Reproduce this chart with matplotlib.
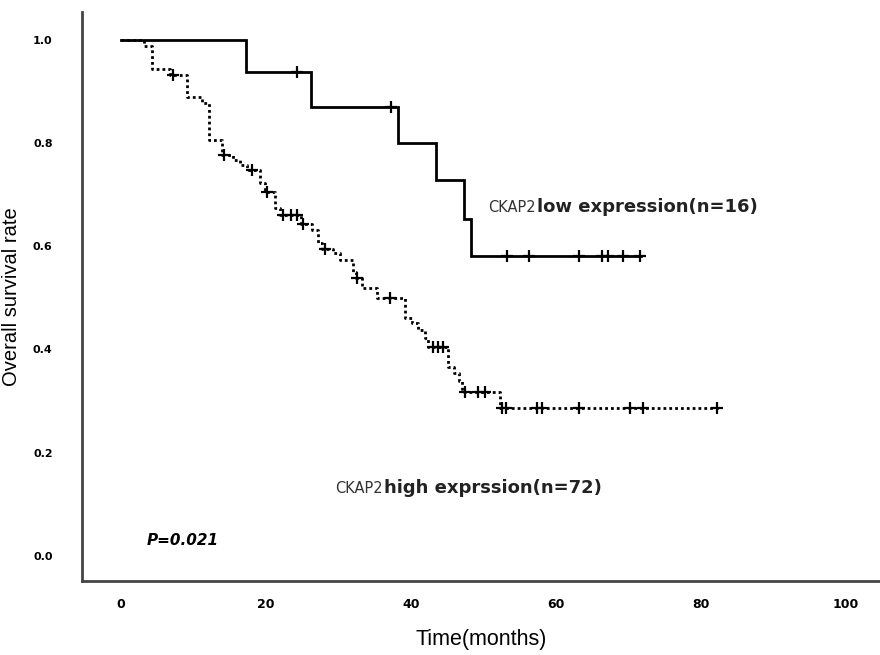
import numpy as np
import matplotlib
matplotlib.use("Agg")
import matplotlib.pyplot as plt

# ---- data ----
low_times = [0, 17.2, 26.2, 38.2, 43.4, 47.3, 48.3]
low_surv = [1.0, 0.938, 0.870, 0.800, 0.729, 0.652, 0.581]
low_end = 71.7
low_censor = [24.3, 37.2, 53.2, 56.3, 63.2, 66.3, 67.2, 69.3, 71.6]

high_times = [0, 3.2, 4.3, 6.8, 9.1, 11.2, 12.1, 14.0, 15.4, 16.4, 17.4, 19.2, 19.9,
              21.2, 21.9, 24.9, 26.3, 27.2, 27.8, 29.2, 30.2, 32.0, 32.5, 33.2, 35.3,
              39.2, 40.1, 41.0, 41.9, 42.3, 45.1, 46.0, 46.7, 47.1, 52.3]
high_surv = [1.0, 0.988, 0.944, 0.932, 0.889, 0.878, 0.806, 0.777, 0.767, 0.758, 0.748,
             0.723, 0.705, 0.674, 0.660, 0.643, 0.632, 0.607, 0.595, 0.587, 0.574,
             0.550, 0.539, 0.519, 0.500, 0.461, 0.452, 0.438, 0.422, 0.405, 0.366,
             0.354, 0.338, 0.318, 0.287]
high_end = 82.6
high_censor = [7.2, 14.2, 18.1, 20.1, 22.3, 23.4, 24.3, 25.1, 28.1, 32.6, 37.1,
               43.0, 43.7, 44.4, 47.4, 49.2, 50.2, 52.5, 53.1, 57.4, 58.1, 63.2,
               70.2, 72.0, 82.2]

xticks = [0, 20, 40, 60, 80, 100]
yticks = [0.0, 0.2, 0.4, 0.6, 0.8, 1.0]


def surv_at(times, surv, t):
    idx = np.searchsorted(np.array(times), t, side="right") - 1
    return np.array(surv)[idx]


fig = plt.figure(figsize=(8.8, 6.55), dpi=100)
ax = fig.add_axes([0.093, 0.113, 0.907, 0.869])

# low expression (solid)
lx = low_times + [low_end]
ly = low_surv + [low_surv[-1]]
ax.step(lx, ly, where="post", color="black", lw=2.0, solid_joinstyle="miter")
ax.plot(low_censor, surv_at(low_times, low_surv, low_censor), ls="none",
        marker="+", ms=9, mew=1.6, color="black")

# high expression (dotted)
hx = high_times + [high_end]
hy = high_surv + [high_surv[-1]]
ax.step(hx, hy, where="post", color="black", lw=2.0, ls=(0, (1.0, 1.1)),
        dash_capstyle="butt")
ax.plot(high_censor, surv_at(high_times, high_surv, high_censor), ls="none",
        marker="+", ms=9, mew=1.6, color="black")

ax.set_xlim(-5.38, 104.7)
ax.set_ylim(-0.0484, 1.054)

for s in ["top", "right"]:
    ax.spines[s].set_visible(False)
for s in ["left", "bottom"]:
    ax.spines[s].set_color("#444444")
    ax.spines[s].set_linewidth(2.0)

ax.set_xticks(xticks)
ax.set_xticklabels([str(v) for v in xticks], fontsize=9, fontweight="bold",
                   family="DejaVu Sans")
ax.set_yticks(yticks)
ax.set_yticklabels([f"{v:.1f}" for v in yticks], fontsize=8, fontweight="bold",
                   family="DejaVu Sans")
ax.tick_params(axis="both", length=0)
ax.tick_params(axis="y", pad=21)
ax.tick_params(axis="x", pad=12)

ax.set_xlabel("Time(months)", fontsize=15.5, family="Liberation Sans")
ax.set_ylabel("Overall survival rate", fontsize=14.5, family="Liberation Sans")
ax.xaxis.set_label_coords(0.5, -0.085)
ax.yaxis.set_label_coords(-0.076, 0.5)

ax.text(50.6, 0.675, "CKAP2", fontsize=10.5, color="#333333", va="center", ha="left",
        family="DejaVu Sans")
ax.text(57.4, 0.675, "low expression(n=16)", fontsize=13, fontweight="bold",
        va="center", ha="left", family="DejaVu Sans", color="#222222")
ax.text(29.5, 0.131, "CKAP2", fontsize=10.5, color="#333333", va="center", ha="left",
        family="DejaVu Sans")
ax.text(36.3, 0.131, "high exprssion(n=72)", fontsize=13, fontweight="bold",
        va="center", ha="left", family="DejaVu Sans", color="#222222")
ax.text(3.5, 0.03, "P=0.021", fontsize=11, fontweight="bold", style="italic",
        va="center", ha="left", family="DejaVu Sans")

fig.savefig("out.png", dpi=100)
